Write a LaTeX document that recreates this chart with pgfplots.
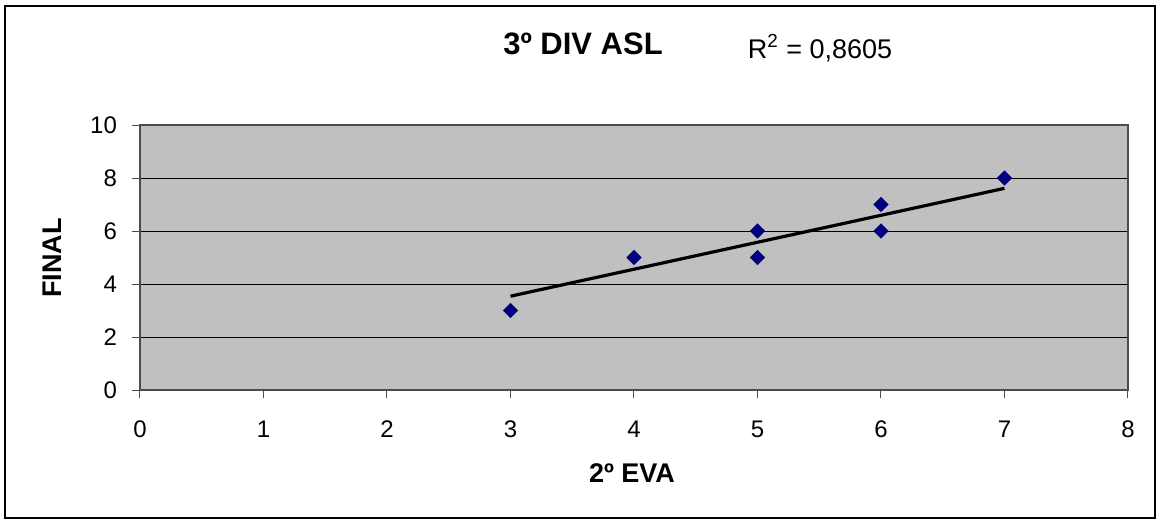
\documentclass[border=0pt]{standalone}
\usepackage{pgfplots}
\pgfplotsset{compat=1.18}
\usepackage{fontspec}
\setmainfont{Liberation Sans}
\definecolor{plotgray}{HTML}{C0C0C0}
\definecolor{navyblue}{HTML}{000080}
\begin{document}
\begin{tikzpicture}
\useasboundingbox (-70pt,-65.5pt) rectangle (509pt,195pt);
\draw[line width=1.2pt] (-67.5pt,-64pt) rectangle (507.5pt,192pt);
\begin{axis}[
  at={(0,0)}, anchor=south west,
  scale only axis, width=494pt, height=132.5pt,
  xmin=0, xmax=8, ymin=0, ymax=10,
  xtick={0,1,...,8}, ytick={0,2,...,10},
  axis background/.style={fill=plotgray},
  axis line style={draw=black!70, line width=0.6pt},
  ymajorgrids, grid style={black, line width=0.5pt},
  tick pos=left, tick align=outside, major tick length=4pt,
  tick style={black!70, line width=0.5pt},
  /pgf/number format/assume math mode=true,
  tick label style={font=\fontsize{12}{14}\selectfont},
  xticklabel style={yshift=-8pt},
  yticklabel style={xshift=-4pt},
  clip=false,
]
\addplot[only marks, mark=square*, mark size=2.5pt, mark options={rotate=45, fill=navyblue, draw=navyblue}]
  coordinates {(3,3) (4,5) (5,6) (5,5) (6,7) (6,6) (7,8)};
\addplot[black, line width=1.6pt] coordinates {(3,3.54) (7,7.61)};
\end{axis}
\node[font=\fontsize{15.5}{18}\selectfont\bfseries] at (221.5pt,173pt) {3º DIV ASL};
\node[font=\fontsize{13.5}{16}\selectfont] at (340pt,171pt) {R\textsuperscript{2} = 0,8605};
\node[font=\fontsize{13.5}{16}\selectfont\bfseries] at (246pt,-41.5pt) {2º EVA};
\node[font=\fontsize{13.5}{16}\selectfont\bfseries, rotate=90] at (-44pt,66pt) {FINAL};
\end{tikzpicture}
\end{document}
